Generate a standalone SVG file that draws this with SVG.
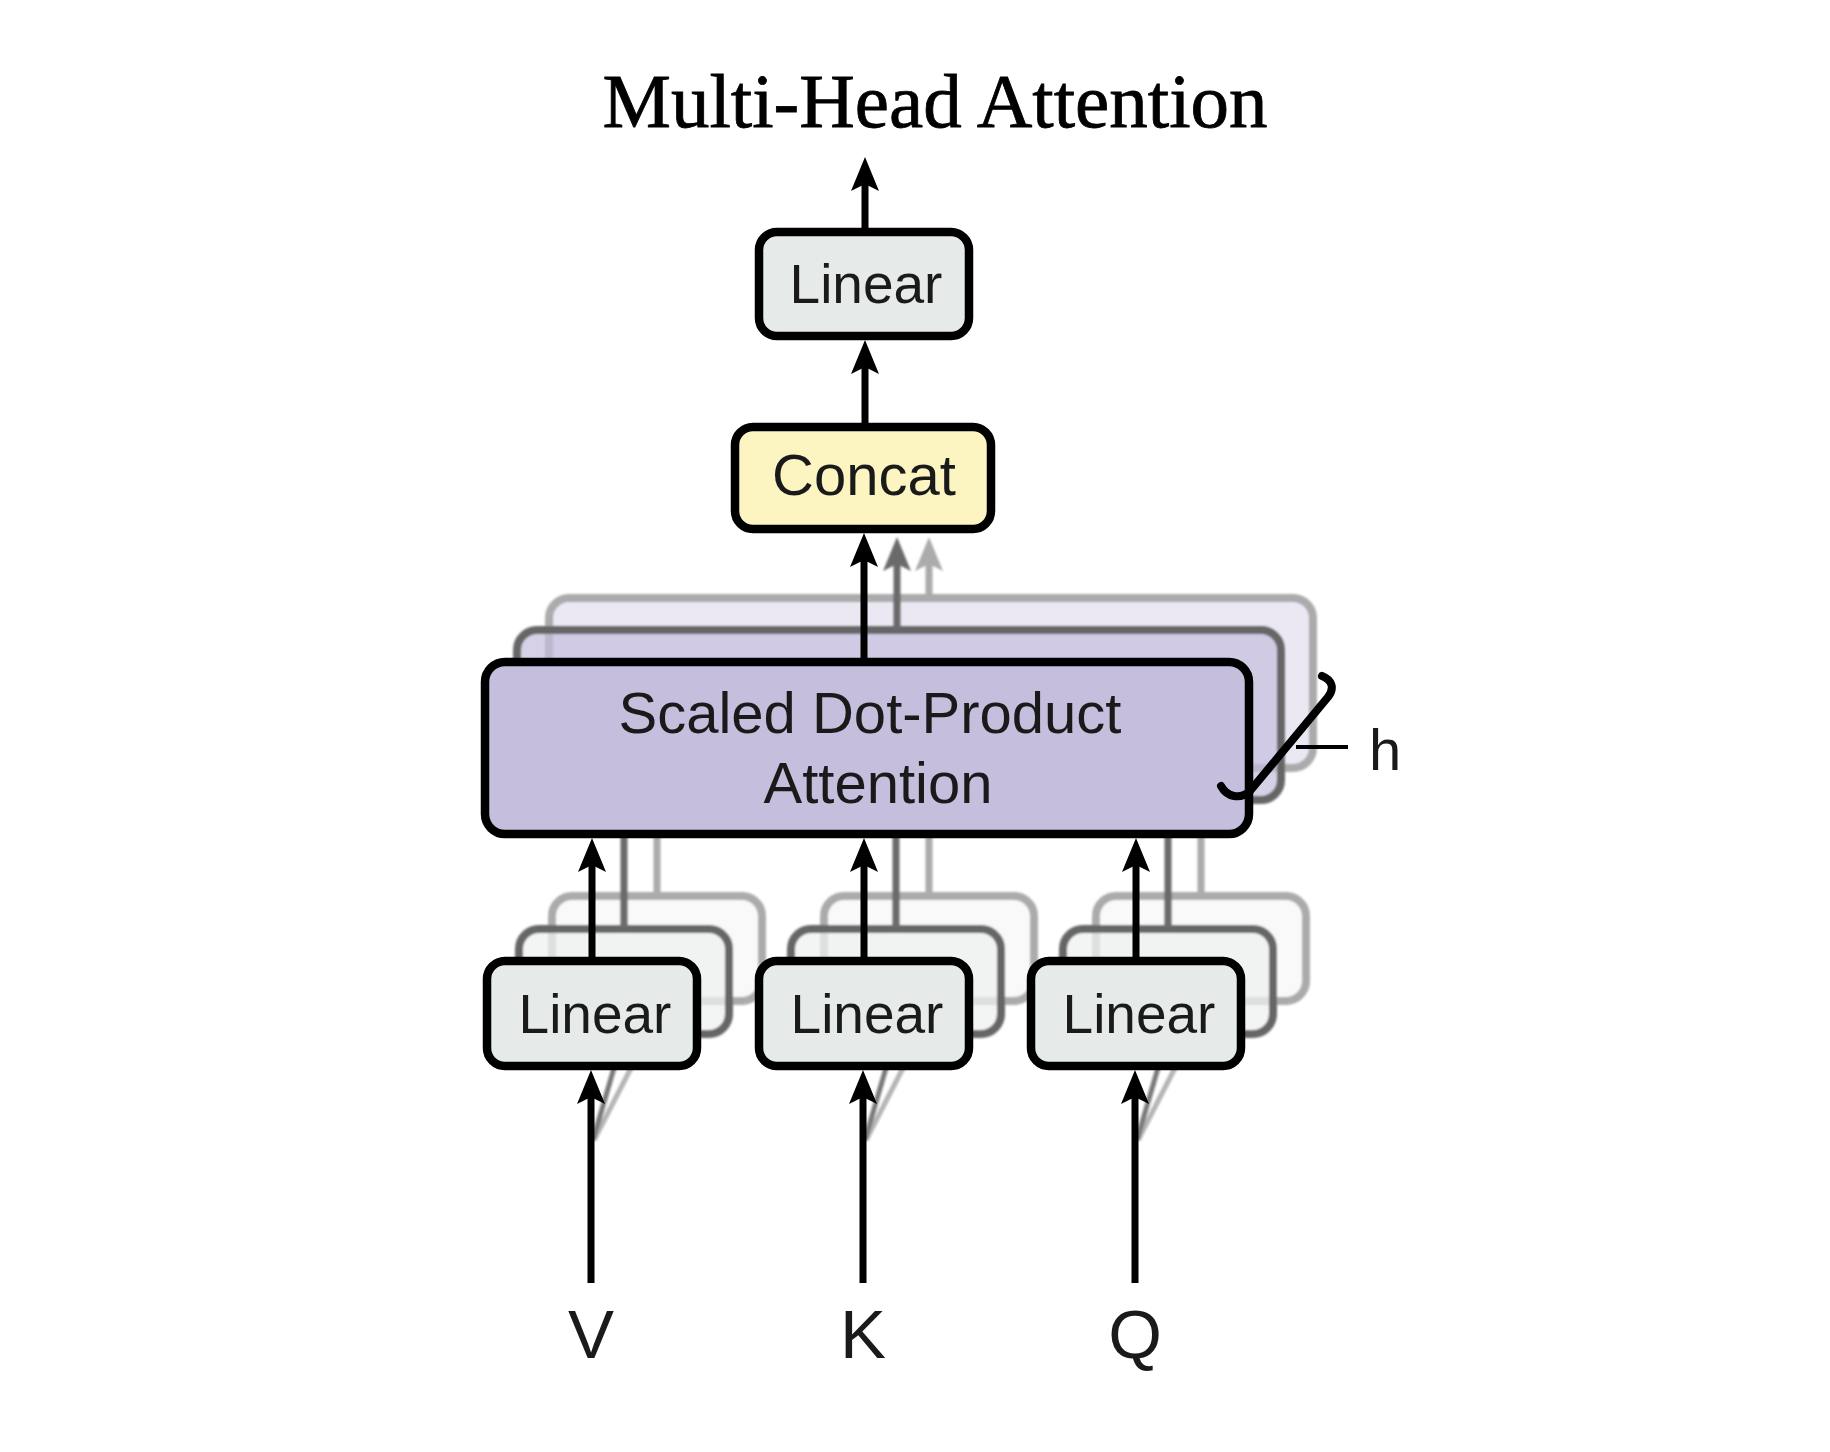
<svg xmlns="http://www.w3.org/2000/svg" width="1830" height="1452" viewBox="0 0 1830 1452">
  <defs>
    <filter id="soft" filterUnits="userSpaceOnUse" x="0" y="0" width="1830" height="1452">
      <feGaussianBlur stdDeviation="1.3"/>
    </filter>
    <marker id="ah-black" markerUnits="userSpaceOnUse" markerWidth="36" markerHeight="30" viewBox="0 0 36 30" refX="14" refY="15" orient="auto">
      <path d="M0,1 L34,15 L0,29 L7,15 Z" fill="#000"/>
    </marker>
    <marker id="ah-dark" markerUnits="userSpaceOnUse" markerWidth="36" markerHeight="30" viewBox="0 0 36 30" refX="14" refY="15" orient="auto">
      <path d="M0,1 L34,15 L0,29 L7,15 Z" fill="#6a6a6a"/>
    </marker>
    <marker id="ah-light" markerUnits="userSpaceOnUse" markerWidth="36" markerHeight="30" viewBox="0 0 36 30" refX="14" refY="15" orient="auto">
      <path d="M0,1 L34,15 L0,29 L7,15 Z" fill="#ababab"/>
    </marker>
  </defs>
  <style>
    .title { font-family: "Liberation Serif", "Times New Roman", serif; font-size: 77px; fill: #000; stroke: #000; stroke-width: 0.8px; }
    .lbl { font-family: "Liberation Sans", Arial, Helvetica, sans-serif; fill: #1a1a1a; text-anchor: middle; }
    .box { stroke: #000; stroke-width: 8.5; }
    .linear { fill: #e6ebe9; }
    .concat { fill: #fcf5c2; }
    .sdpa { fill: #c5bedd; }
    .ghost2 { stroke: #666; stroke-width: 8; }
    .ghost3 { stroke: #ababab; stroke-width: 8; }
    .lin2 { fill: #edf1ef; fill-opacity: 0.75; }
    .lin3 { fill: #f5f7f6; fill-opacity: 0.75; }
    .sd2 { fill: #c5bedd; fill-opacity: 0.7; }
    .sd3 { fill: #c5bedd; fill-opacity: 0.35; }
    .arrow { stroke: #000; stroke-width: 7; fill: none; }
    .arrow-dark { stroke: #6a6a6a; stroke-width: 7; fill: none; }
    .arrow-light { stroke: #ababab; stroke-width: 7; fill: none; }
  </style>
  <rect width="1830" height="1452" fill="#fff"/>

  <text id="title" class="title" x="935" y="127" text-anchor="middle">Multi-Head Attention</text>

  <!-- ghost stacks (other heads) -->
  <g id="ghost-heads" filter="url(#soft)">
    <rect class="ghost3 sd3" x="549" y="598" width="764" height="170" rx="20"/>
    <rect class="ghost3 lin3" x="552" y="896" width="210" height="105" rx="20"/>
    <rect class="ghost3 lin3" x="824" y="896" width="210" height="105" rx="20"/>
    <rect class="ghost3 lin3" x="1096" y="896" width="210" height="105" rx="20"/>
    <rect class="ghost2 sd2" x="517" y="630" width="764" height="170" rx="20"/>
    <rect class="ghost2 lin2" x="519" y="929" width="210" height="105" rx="20"/>
    <rect class="ghost2 lin2" x="791" y="929" width="210" height="105" rx="20"/>
    <rect class="ghost2 lin2" x="1063" y="929" width="210" height="105" rx="20"/>
  </g>

  <g id="connectors">
    <g id="ghost-connectors" filter="url(#soft)">
      <line class="arrow-light" x1="929" y1="598" x2="929" y2="557" marker-end="url(#ah-light)"/>
      <line class="arrow-dark" x1="897" y1="630" x2="897" y2="557" marker-end="url(#ah-dark)"/>
      <line class="arrow-light" x1="657" y1="896" x2="657" y2="836"/>
      <line class="arrow-dark" x1="624" y1="929" x2="624" y2="836"/>
      <line class="arrow-light" x1="929" y1="896" x2="929" y2="836"/>
      <line class="arrow-dark" x1="896" y1="929" x2="896" y2="836"/>
      <line class="arrow-light" x1="1201" y1="896" x2="1201" y2="836"/>
      <line class="arrow-dark" x1="1168" y1="929" x2="1168" y2="836"/>
      <line stroke="#b5b5b5" stroke-width="5" x1="594" y1="1140" x2="631" y2="1068"/>
      <line stroke="#7a7a7a" stroke-width="5" x1="593" y1="1140" x2="614" y2="1068"/>
      <line stroke="#b5b5b5" stroke-width="5" x1="866" y1="1140" x2="903" y2="1068"/>
      <line stroke="#7a7a7a" stroke-width="5" x1="865" y1="1140" x2="886" y2="1068"/>
      <line stroke="#b5b5b5" stroke-width="5" x1="1138" y1="1140" x2="1175" y2="1068"/>
      <line stroke="#7a7a7a" stroke-width="5" x1="1137" y1="1140" x2="1158" y2="1068"/>
    </g>
    <line class="arrow" x1="865" y1="230" x2="865" y2="177" marker-end="url(#ah-black)"/>
    <line class="arrow" x1="865" y1="425" x2="865" y2="360" marker-end="url(#ah-black)"/>
    <line class="arrow" x1="864" y1="660" x2="864" y2="553" marker-end="url(#ah-black)"/>
    <line class="arrow" x1="592" y1="959" x2="592" y2="858" marker-end="url(#ah-black)"/>
    <line class="arrow" x1="864" y1="959" x2="864" y2="858" marker-end="url(#ah-black)"/>
    <line class="arrow" x1="1136" y1="959" x2="1136" y2="858" marker-end="url(#ah-black)"/>
    <line class="arrow" x1="591" y1="1283" x2="591" y2="1090" marker-end="url(#ah-black)"/>
    <line class="arrow" x1="863" y1="1283" x2="863" y2="1090" marker-end="url(#ah-black)"/>
    <line class="arrow" x1="1135" y1="1283" x2="1135" y2="1090" marker-end="url(#ah-black)"/>
  </g>

  <g id="node-linear-out">
    <rect class="box linear" x="759" y="232" width="210" height="104" rx="18"/>
    <text class="lbl" x="866" y="303" font-size="55">Linear</text>
  </g>

  <g id="node-concat">
    <rect class="box concat" x="735" y="427" width="256" height="102" rx="18"/>
    <text class="lbl" x="864" y="495" font-size="58">Concat</text>
  </g>

  <g id="node-sdpa">
    <rect class="box sdpa" x="485" y="662" width="764" height="172" rx="20"/>
    <text class="lbl" x="870" y="733" font-size="58">Scaled Dot-Product</text>
    <text class="lbl" x="878" y="803" font-size="58">Attention</text>
  </g>

  <g id="heads-bracket">
    <path d="M1221,786 C1227,797 1240,800 1250,791 L1328,697 C1335,688 1332,680 1322,676" fill="none" stroke="#000" stroke-width="8" stroke-linecap="round" stroke-linejoin="round"/>
    <line x1="1296" y1="747" x2="1348" y2="747" stroke="#000" stroke-width="4"/>
    <text class="lbl" x="1369" y="770" font-size="58" style="text-anchor:start">h</text>
  </g>

  <g id="node-linear-v">
    <rect class="box linear" x="487" y="961" width="210" height="105" rx="18"/>
    <text class="lbl" x="595" y="1033" font-size="55">Linear</text>
  </g>
  <g id="node-linear-k">
    <rect class="box linear" x="759" y="961" width="210" height="105" rx="18"/>
    <text class="lbl" x="867" y="1033" font-size="55">Linear</text>
  </g>
  <g id="node-linear-q">
    <rect class="box linear" x="1031" y="961" width="210" height="105" rx="18"/>
    <text class="lbl" x="1139" y="1033" font-size="55">Linear</text>
  </g>

  <g id="input-v"><text class="lbl" x="591" y="1358" font-size="69">V</text></g>
  <g id="input-k"><text class="lbl" x="863" y="1358" font-size="69">K</text></g>
  <g id="input-q"><text class="lbl" x="1135" y="1358" font-size="69">Q</text></g>
</svg>
